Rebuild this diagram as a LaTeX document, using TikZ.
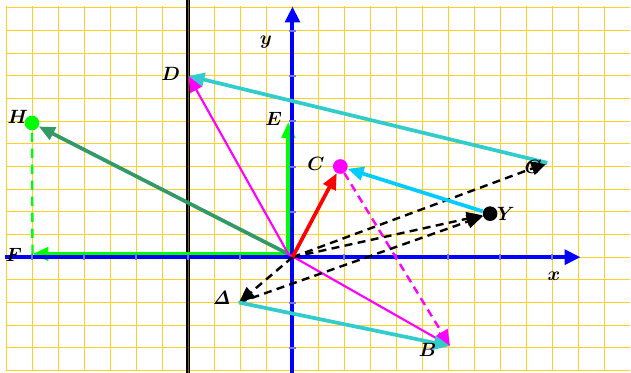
\documentclass[tikz,border=0pt]{standalone}
\usepackage{amsmath, amssymb}
\usepackage{tikz}
\usetikzlibrary{positioning, arrows.meta}
\usepackage{xcolor}

\definecolor{gridgold}{RGB}{255,208,40}
\definecolor{axisblue}{RGB}{0,0,255}
\definecolor{vgreen}{RGB}{0,255,0}
\definecolor{vseagreen}{RGB}{51,153,102}
\definecolor{vturq}{RGB}{51,204,204}
\definecolor{vsky}{RGB}{0,204,255}
\definecolor{vmagenta}{RGB}{255,0,255}

\begin{document}
\begin{tikzpicture}[x=39pt, y=34pt,
    vec/.style={line width=2.8pt, -{Triangle[length=12pt, width=10pt]}},
    dashvec/.style={line width=1.8pt, dash pattern=on 6pt off 4pt, -{Triangle[length=12pt, width=10pt]}},
    dotnode/.style={circle, inner sep=0pt, minimum size=11pt},
    lbl/.style={font=\Large\boldmath, inner sep=0pt}]

    \useasboundingbox (-5.625,-2.539) rectangle (6.51,5.673);
    \fill[white] (-5.625,-2.539) rectangle (6.51,5.673);

    % Grid paper
    \draw[gridgold, line width=0.6pt, step=0.5] (-5.5,-2.5) grid (6.49,5.55);

    % The double line at x = -2
    \draw[black, line width=0.9pt, double={rgb,255:red,128;green,96;blue,0}, double distance=1.2pt] (-2,-2.6) -- (-2,5.7);

    % Define the points
    \coordinate (O) at (0,0);
    \coordinate (Og) at (-0.08,0.07);
    \coordinate (D) at (-2,4);
    \coordinate (E) at (-0.08,2.98);
    \coordinate (F) at (-5,0.07);
    \coordinate (G) at (4.9,2.08);
    \coordinate (B) at (3.03,-1.96);
    \coordinate (Delta) at (-1.03,-1.0);
    \node[dotnode, fill=vgreen] (H) at (-5.01,2.96) {};
    \node[dotnode, fill=vmagenta] (C) at (0.92,2.0) {};
    \node[dotnode, fill=black] (Y) at (3.8,0.96) {};

    % Green vectors (under the axes)
    \draw[vgreen, line width=1.8pt, dash pattern=on 7pt off 5pt] (F) -- (H);
    \draw[vec, vgreen] (Og) -- (E);
    \draw[vec, vgreen] (Og) -- (F);
    \draw[vec, vseagreen] (Og) -- (H);

    % Axes
    \draw[axisblue, line width=3pt, -{Triangle[length=12pt, width=11pt]}] (-5.53,0) -- (5.54,0);
    \draw[axisblue, line width=3pt, -{Triangle[length=12pt, width=11pt]}] (0,-2.6) -- (0,5.53);
    \foreach \i in {-5,...,-1,1,2,...,5}
        \draw[blue!55!white, line width=1.5pt] (\i,-0.07) -- (\i,0.07);
    \foreach \j in {-2,-1,1,2,...,5}
        \draw[blue!55!white, line width=1.5pt] (-0.06,\j) -- (0.06,\j);

    % Magenta vectors
    \draw[vec, vmagenta, line width=1.6pt] (Og) -- (D);
    \draw[vec, vmagenta, line width=1.6pt] (Og) -- (B);
    \draw[dashvec, vmagenta] (C) -- (B);

    % Black dashed vectors
    \draw[dashvec, black] (O) -- (G);
    \draw[dashvec, black] (O) -- (Delta);
    \draw[dashvec, black] (Delta) -- (Y);
    \draw[dashvec, black] (O) -- (Y);

    % Red vector
    \draw[vec, red] (O) -- (C);

    % Cyan connectors
    \draw[vec, vturq] (G) -- (D);
    \draw[vec, vsky] (Y) -- (C);
    \draw[vec, vturq] (Delta) -- (B);

    % Labels
    \node[lbl] (lH) at (-5.28,3.1) {$H$};
    \node[lbl] (lF) at (-5.36,0.04) {$F$};
    \node[lbl] (lE) at (-0.36,3.05) {$E$};
    \node[lbl] (lD) at (-2.34,4.05) {$D$};
    \node[lbl] (lC) at (0.45,2.05) {$C$};
    \node[lbl] (lG) at (4.63,2.0) {$G$};
    \node[lbl] (lY) at (4.1,0.95) {$Y$};
    \node[lbl] (lDelta) at (-1.36,-0.9) {$\mathit{\Delta}$};
    \node[lbl] (lB) at (2.6,-2.05) {$B$};
    \node[lbl] (lx) at (5.03,-0.42) {$x$};
    \node[lbl] (ly) at (-0.51,4.75) {$y$};

\end{tikzpicture}
\end{document}
